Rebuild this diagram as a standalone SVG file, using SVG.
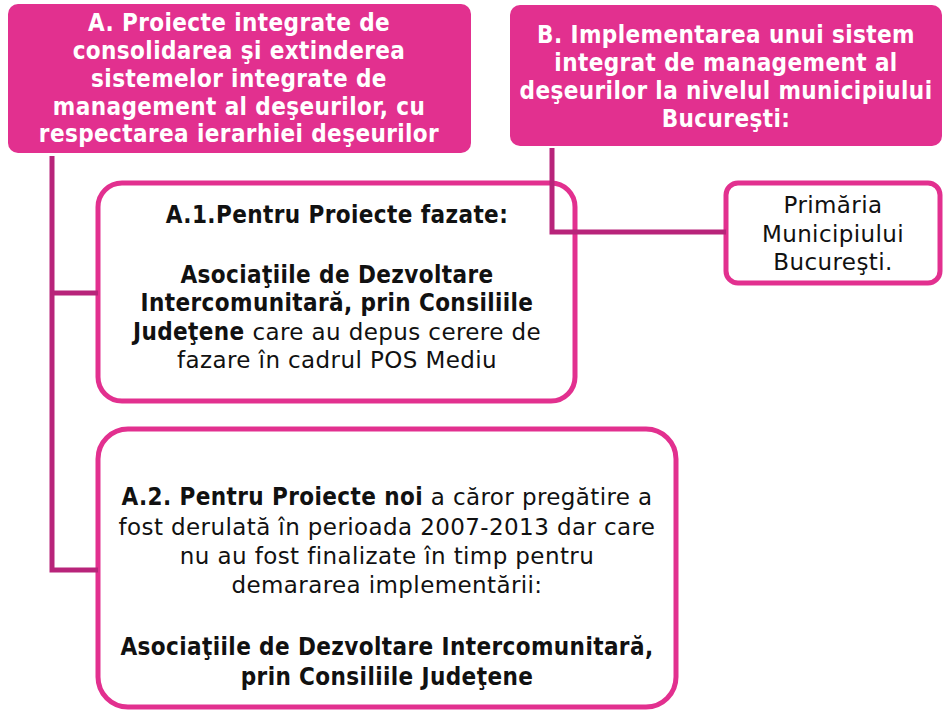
<svg xmlns="http://www.w3.org/2000/svg" width="944" height="712" viewBox="0 0 944 712">
<style>
.hdr{fill:#E2308F;}
.box{fill:#FFFFFF;stroke:#E2308F;stroke-width:5;}
.con{fill:none;stroke:#B8247A;stroke-width:5;}
text{font-family:"DejaVu Sans",sans-serif;font-size:23px;letter-spacing:0.4px;text-anchor:middle;}
.w{fill:#FFFFFF;}
.k{fill:#111111;}
.b{font-family:"DejaVu Sans Condensed","DejaVu Sans",sans-serif;font-weight:bold;font-size:24px;letter-spacing:0.4px;}
</style>
<rect x="0" y="0" width="944" height="712" fill="#FFFFFF"/>
<g id="nodeA">
<rect class="hdr" x="8" y="4" width="463" height="149" rx="10"/>
<text class="w b" x="239" y="31">A. Proiecte integrate de</text>
<text class="w b" x="239" y="59">consolidarea şi extinderea</text>
<text class="w b" x="239" y="87">sistemelor integrate de</text>
<text class="w b" x="239" y="115">management al deşeurilor, cu</text>
<text class="w b" x="239" y="142">respectarea ierarhiei deşeurilor</text>
</g>
<g id="nodeB">
<rect class="hdr" x="510" y="5" width="432" height="141" rx="10"/>
<text class="w b" x="726" y="43">B. Implementarea unui sistem</text>
<text class="w b" x="726" y="71">integrat de management al</text>
<text class="w b" x="726" y="99">deşeurilor la nivelul municipiului</text>
<text class="w b" x="726" y="127">Bucureşti:</text>
</g>
<g id="nodeA1">
<rect class="box" x="98" y="183" width="477" height="218" rx="24"/>
<text class="k b" x="337" y="223">A.1.Pentru Proiecte fazate:</text>
<text class="k b" x="337" y="283">Asociaţiile de Dezvoltare</text>
<text class="k b" x="337" y="311">Intercomunitară, prin Consiliile</text>
<text class="k" x="337" y="340"><tspan class="b">Judeţene</tspan> care au depus cerere de</text>
<text class="k" x="337" y="368">fazare în cadrul POS Mediu</text>
</g>
<g id="nodeA2">
<rect class="box" x="98" y="429" width="578" height="278" rx="30"/>
<text class="k" x="387" y="505"><tspan class="b">A.2. Pentru Proiecte noi</tspan> a căror pregătire a</text>
<text class="k" x="387" y="535">fost derulată în perioada 2007-2013 dar care</text>
<text class="k" x="387" y="564">nu au fost finalizate în timp pentru</text>
<text class="k" x="387" y="593">demararea implementării:</text>
<text class="k b" x="387" y="655">Asociaţiile de Dezvoltare Intercomunitară,</text>
<text class="k b" x="387" y="685">prin Consiliile Judeţene</text>
</g>
<g id="nodePMB">
<rect class="box" x="726" y="183" width="214" height="100" rx="12"/>
<text class="k" x="833" y="213">Primăria</text>
<text class="k" x="833" y="242">Municipiului</text>
<text class="k" x="833" y="270">Bucureşti.</text>
</g>
<g id="connectors">
<path class="con" d="M52 156 V570 H98"/>
<path class="con" d="M52 293 H98"/>
<path class="con" d="M552 148 V232 H726"/>
</g>
</svg>
